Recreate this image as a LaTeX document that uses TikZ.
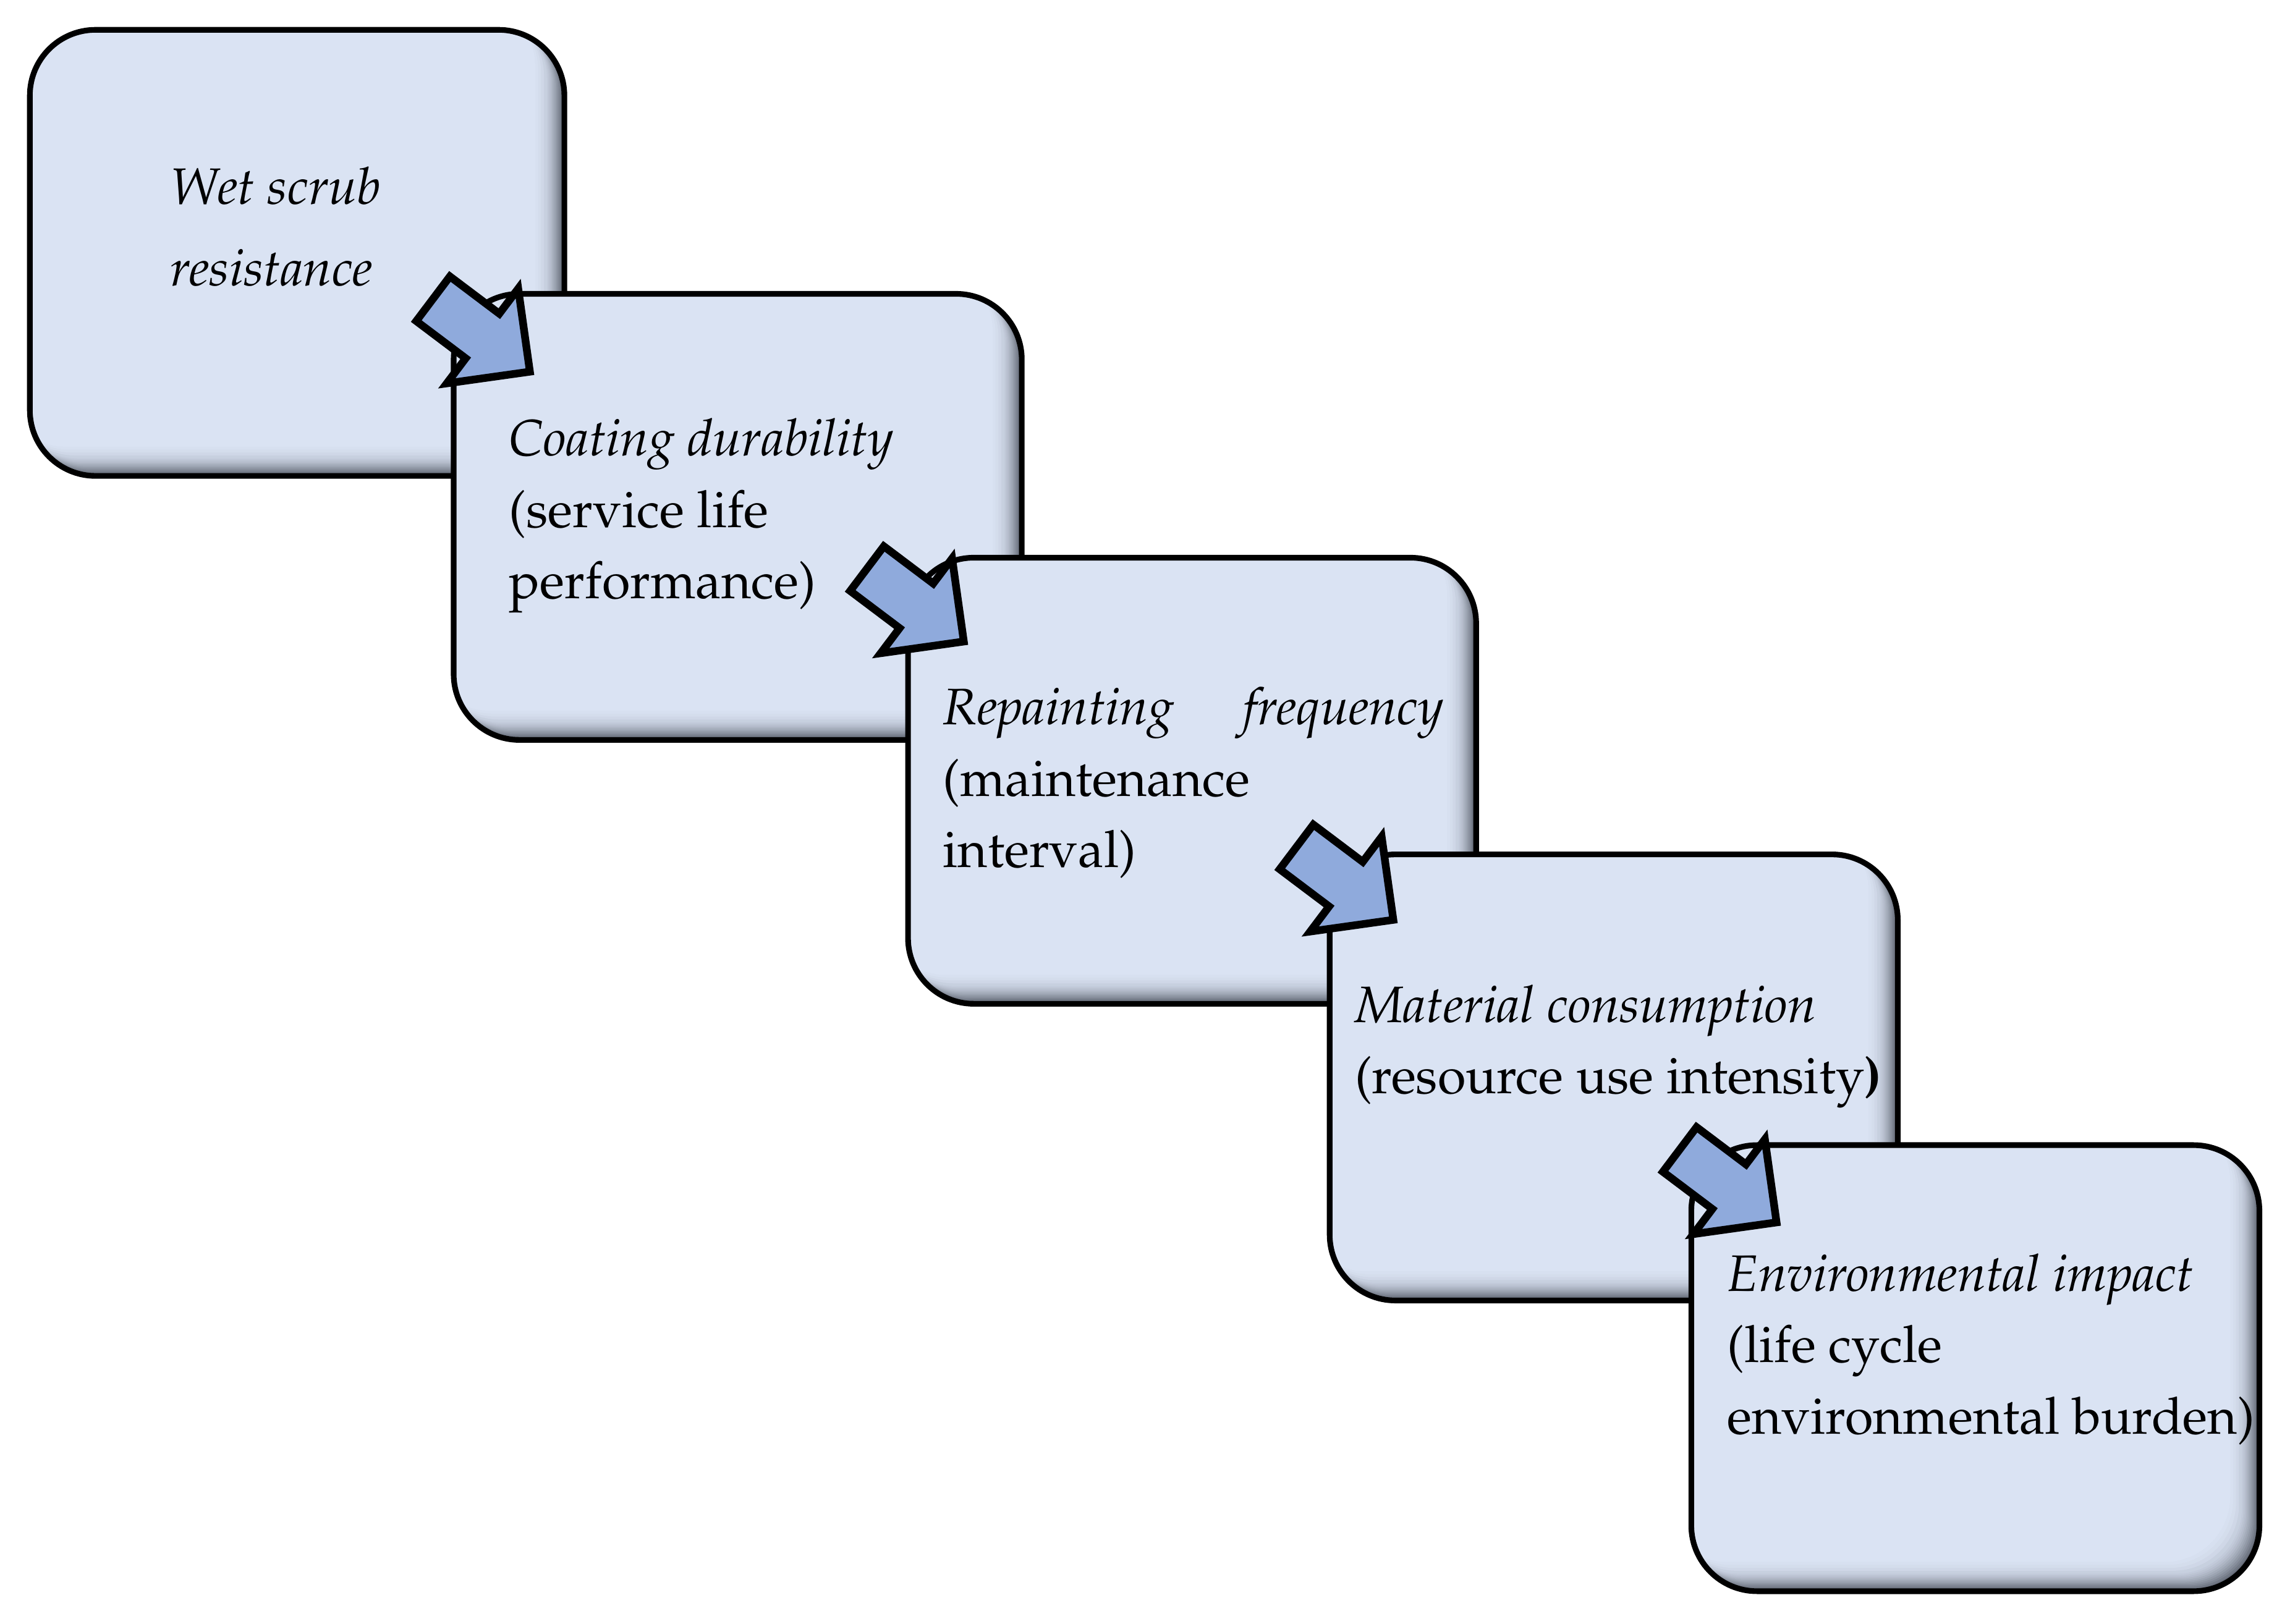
\documentclass[tikz,border=0pt]{standalone}
\usepackage[T1]{fontenc}
\usepackage{mathpazo}
\usepackage{tikz}
\usetikzlibrary{shapes.arrows,positioning}
\definecolor{cardblue}{RGB}{218,227,243}
\definecolor{cardshade}{RGB}{92,98,110}
\definecolor{arrowblue}{RGB}{143,170,220}
\tikzset{
  stepcard/.style={draw=black, line width=1.1pt, rounded corners=0.45cm, fill=cardblue,
    anchor=north west, inner sep=0pt, minimum width=3.89cm, minimum height=3.055cm,
    path picture={
      \foreach \o/\p in {0/0,1/8,2/17,3/26,4/35,5/43,6/51,7/58,8/65,9/71,10/76,11/81,12/85,14/91,16/95,18/98,20/100}{
        \fill[cardblue!\p!cardshade, rounded corners=0.45cm]
          ([shift={(-\o/100,\o/100)}]path picture bounding box.south west) rectangle
          ([shift={(-\o/100,\o/100)}]path picture bounding box.north east);
      }
    }},
  % anchored at the baseline of the last line
  steptext/.style={anchor=base west, inner sep=0pt, align=left,
    font=\fontsize{10}{13.9}\selectfont},
  stepshift/.style={single arrow, draw=black, line width=1.5pt, fill=arrowblue,
    inner xsep=0pt, inner ysep=0.165cm, single arrow head extend=0.215cm,
    single arrow tip angle=90, minimum height=0.83cm, anchor=tip, rotate=-37},
}
\begin{document}
\begin{tikzpicture}
\useasboundingbox (0,0) rectangle (15.68,-11.12);
% Step 1
\node[stepcard, minimum width=3.66cm] (b1) at (0.185,-0.185) {};
\node[steptext, font=\fontsize{10}{16}\selectfont] (t1) at (1.159,-1.959) {\textit{Wet scrub}\\\textit{resistance}};
% Step 2
\node[stepcard] (b2) at (3.087,-1.993) {};
\node[steptext] (t2) at (3.48,-4.10) {\textit{Coating durability}\\(service life\\performance)};
\node[stepshift] (a1) at (3.658,-2.568) {};
% Step 3
\node[stepcard] (b3) at (6.198,-3.80) {};
\node[steptext] (t3) at (6.45,-5.94) {\makebox[3.43cm][s]{\textit{Repainting} \textit{frequency}}\\(maintenance\\interval)};
\node[stepshift] (a2) at (6.629,-4.416) {};
% Step 4
\node[stepcard] (b4) at (9.085,-5.832) {};
\node[steptext] (t4) at (9.27,-7.49) {\textit{Material consumption}\\(resource use intensity\textbf{)}};
\node[stepshift] (a3) at (9.57,-6.322) {};
% Step 5
\node[stepcard] (b5) at (11.561,-7.823) {};
\node[steptext] (t5) at (11.82,-9.82) {\textit{Environmental impact}\\(life cycle\\environmental burden)};
\node[stepshift] (a4) at (12.194,-8.394) {};
\end{tikzpicture}
\end{document}
